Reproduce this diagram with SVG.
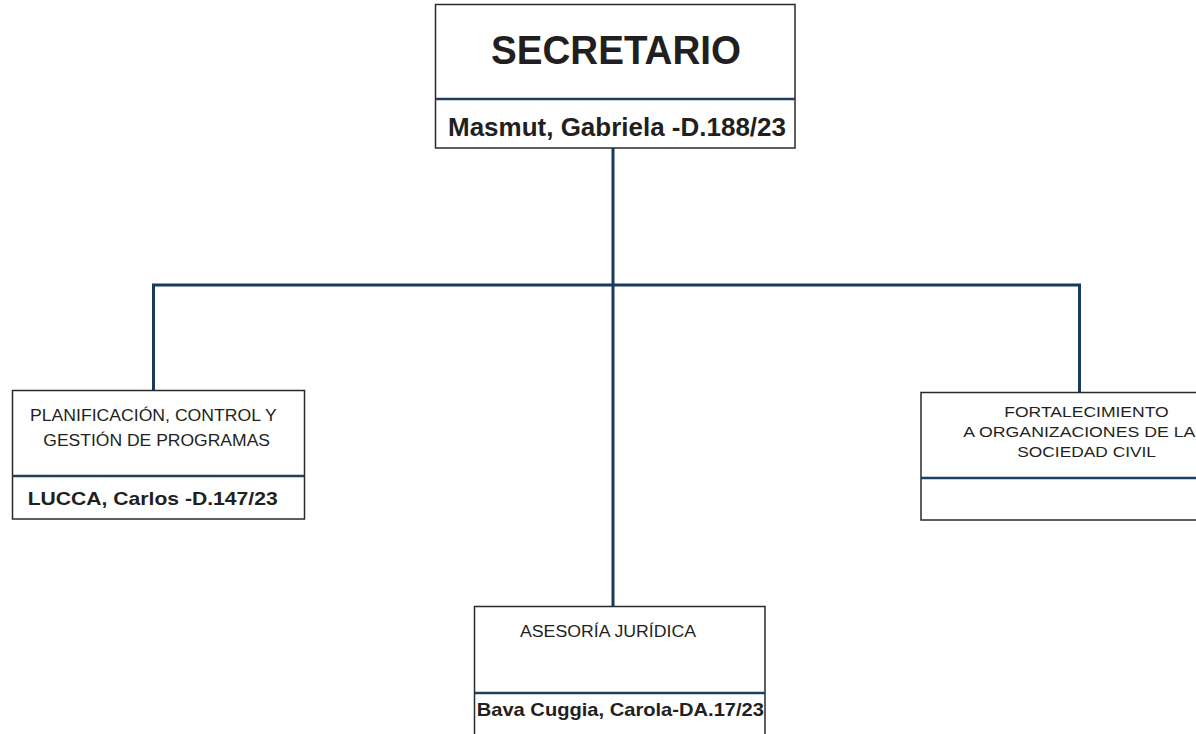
<svg xmlns="http://www.w3.org/2000/svg" width="1196" height="734" viewBox="0 0 1196 734">
<style>
.box{fill:#ffffff;stroke:#2a2a2a;stroke-width:1.5}
.div{stroke:#1d3f60;stroke-width:2.5;fill:none}
.conn{stroke:#173a5e;stroke-width:3;fill:none;stroke-linecap:butt}
.t{font-family:"Liberation Sans",Arial,sans-serif;fill:#231f20}
.b{font-weight:bold}
</style>
<rect width="1196" height="734" fill="#ffffff"/>
<g id="connectors">
<line class="conn" x1="613" y1="148" x2="613" y2="606"/>
<line class="conn" x1="152" y1="285" x2="1081" y2="285"/>
<line class="conn" x1="153.5" y1="285" x2="153.5" y2="390"/>
<line class="conn" x1="1079.5" y1="285" x2="1079.5" y2="392"/>
</g>
<g id="secretario">
<rect class="box" x="435.5" y="4.5" width="359.5" height="143.5"/>
<line class="div" x1="435.5" y1="99" x2="795" y2="99"/>
<text class="t b" x="491" y="64" font-size="40" textLength="250" lengthAdjust="spacingAndGlyphs">SECRETARIO</text>
<text class="t b" x="448" y="135.5" font-size="26.5" textLength="338" lengthAdjust="spacingAndGlyphs">Masmut, Gabriela -D.188/23</text>
</g>
<g id="planificacion">
<rect class="box" x="12.5" y="390.5" width="292" height="128.5"/>
<line class="div" x1="12.5" y1="476" x2="304.5" y2="476"/>
<text class="t" x="30" y="421" font-size="16" textLength="246.7" lengthAdjust="spacingAndGlyphs">PLANIFICACIÓN, CONTROL Y</text>
<text class="t" x="43.3" y="445.7" font-size="16" textLength="226.7" lengthAdjust="spacingAndGlyphs">GESTIÓN DE PROGRAMAS</text>
<text class="t b" x="27.7" y="505" font-size="18.5" textLength="250" lengthAdjust="spacingAndGlyphs">LUCCA, Carlos -D.147/23</text>
</g>
<g id="fortalecimiento">
<rect class="box" x="921" y="392.5" width="290" height="127.5"/>
<line class="div" x1="921" y1="478" x2="1200" y2="478"/>
<text class="t" x="1004.3" y="416.7" font-size="15" textLength="164.4" lengthAdjust="spacingAndGlyphs">FORTALECIMIENTO</text>
<text class="t" x="963.3" y="436.7" font-size="15" textLength="232" lengthAdjust="spacingAndGlyphs">A ORGANIZACIONES DE LA</text>
<text class="t" x="1017.3" y="457.3" font-size="15" textLength="138.7" lengthAdjust="spacingAndGlyphs">SOCIEDAD CIVIL</text>
</g>
<g id="asesoria">
<rect class="box" x="474.5" y="606.5" width="290.5" height="140"/>
<line class="div" x1="474.5" y1="693" x2="765" y2="693"/>
<text class="t" x="520" y="637.3" font-size="16" textLength="176" lengthAdjust="spacingAndGlyphs">ASESORÍA JURÍDICA</text>
<text class="t b" x="476.7" y="716" font-size="18.5" textLength="287.3" lengthAdjust="spacingAndGlyphs">Bava Cuggia, Carola-DA.17/23</text>
</g>
</svg>
